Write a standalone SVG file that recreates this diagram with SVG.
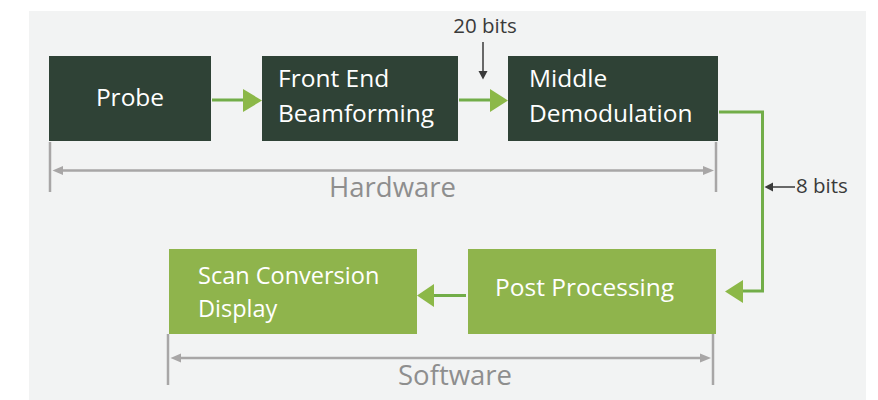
<svg xmlns="http://www.w3.org/2000/svg" width="878" height="400" viewBox="0 0 878 400">
  <style>
    .dark { fill: #2f4236; }
    .lite { fill: #8fb44c; }
    .lbl { font-family: "Open Sans", "Liberation Sans", sans-serif; font-size: 24.5px; fill: #ffffff; }
    .lbl2 { font-size: 23.5px; }
    .dim { font-family: "Open Sans", "Liberation Sans", sans-serif; font-size: 27.5px; fill: #8e8e8e; }
    .note { font-family: "Open Sans", "Liberation Sans", sans-serif; font-size: 20.5px; fill: #3a3a3a; }
    .flow { fill: none; stroke: #72ad48; stroke-width: 3; }
    .head { fill: #8cb848; }
    .span { fill: none; stroke: #a8a6a6; stroke-width: 2.5; }
    .spanhead { fill: #a8a6a6; }
    .ptr { fill: none; stroke: #3a3a3a; stroke-width: 1.5; }
    .ptrhead { fill: #3a3a3a; }
  </style>

  <!-- panel -->
  <rect x="29" y="11" width="837" height="389" fill="#f2f3f3"/>

  <!-- blocks -->
  <g id="probe">
    <rect class="dark" x="49" y="56" width="162" height="85"/>
    <text class="lbl" x="130" y="106" text-anchor="middle">Probe</text>
  </g>
  <g id="front-end">
    <rect class="dark" x="262" y="56" width="196" height="85"/>
    <text class="lbl" x="278" y="87">Front End</text>
    <text class="lbl" x="278" y="122">Beamforming</text>
  </g>
  <g id="middle">
    <rect class="dark" x="508" y="56" width="210" height="85"/>
    <text class="lbl" x="529" y="87">Middle</text>
    <text class="lbl" x="529" y="122">Demodulation</text>
  </g>
  <g id="post-processing">
    <rect class="lite" x="468" y="249" width="248" height="85"/>
    <text class="lbl" x="495" y="296">Post Processing</text>
  </g>
  <g id="scan-conversion">
    <rect class="lite" x="169" y="249" width="248" height="85"/>
    <text class="lbl lbl2" x="198" y="284">Scan Conversion</text>
    <text class="lbl lbl2" x="198" y="316.5">Display</text>
  </g>

  <!-- connectors -->
  <g id="connectors">
    <path class="flow" d="M212 100 H245"/>
    <polygon class="head" points="243,89 262,100.5 243,112"/>
    <path class="flow" d="M459 100 H492"/>
    <polygon class="head" points="490,89 508,100.5 490,112"/>
    <path class="flow" d="M719 112 H762.5 V291 H741"/>
    <polygon class="head" points="743,280 725,291.5 743,303"/>
    <path class="flow" d="M466 295.5 H432"/>
    <polygon class="head" points="434,284 417,295.5 434,307"/>

    <!-- bit-width pointers -->
    <path class="ptr" d="M483 42 V72"/>
    <polygon class="ptrhead" points="478.5,71 487.5,71 483,79.5"/>
    <path class="ptr" d="M772 187 H795"/>
    <polygon class="ptrhead" points="773,182.5 773,191.5 764.5,187"/>

    <!-- hardware span -->
    <path class="span" d="M50 142 V192 M716 142 V192 M60 170.5 H706"/>
    <polygon class="spanhead" points="63,166 52.5,170.5 63,175"/>
    <polygon class="spanhead" points="703,166 714,170.5 703,175"/>

    <!-- software span -->
    <path class="span" d="M168 334 V385 M713 334 V385 M178 358 H703"/>
    <polygon class="spanhead" points="181,353.5 170.5,358 181,362.5"/>
    <polygon class="spanhead" points="700,353.5 711,358 700,362.5"/>
  </g>

  <!-- labels -->
  <text class="note" x="485" y="33" text-anchor="middle">20 bits</text>
  <text class="note" x="796" y="193">8 bits</text>
  <text class="dim" x="392.5" y="196.5" text-anchor="middle">Hardware</text>
  <text class="dim" x="455" y="385" text-anchor="middle">Software</text>
</svg>
